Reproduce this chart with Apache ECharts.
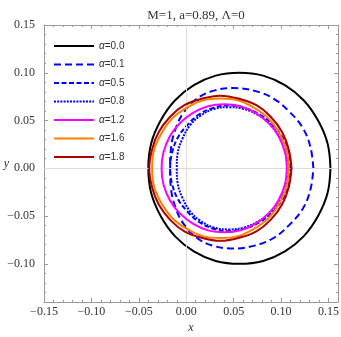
<!DOCTYPE html>
<html>
<head>
<meta charset="utf-8">
<script src="https://cdn.jsdelivr.net/npm/echarts@6/dist/echarts.min.js"></script>
<style>
  html, body { margin: 0; padding: 0; background: #fff; }
  #chart { width: 341px; height: 337px; }
</style>
</head>
<body>
<div id="chart"></div>
<script>
// shadow outlines, one x/y pair of lists per alpha
const alpha00X = [0.152, 0.149, 0.139, 0.124, 0.104, 0.081, 0.056, 0.031, 0.008, -0.012, -0.027, -0.037, -0.040, -0.037, -0.027, -0.012, 0.008, 0.031, 0.056, 0.081, 0.104, 0.124, 0.139, 0.149, 0.152]
const alpha00Y = [0, 0.026, 0.050, 0.071, 0.087, 0.097, 0.100, 0.097, 0.087, 0.071, 0.050, 0.026, 0, -0.026, -0.050, -0.071, -0.087, -0.097, -0.100, -0.097, -0.087, -0.071, -0.050, -0.026, 0]

const alpha01X = [0.134, 0.131, 0.123, 0.109, 0.092, 0.072, 0.050, 0.028, 0.010, -0.003, -0.011, -0.016, -0.017, -0.016, -0.011, -0.003, 0.010, 0.028, 0.050, 0.072, 0.092, 0.109, 0.123, 0.131, 0.134]
const alpha01Y = [0, 0.022, 0.042, 0.059, 0.073, 0.081, 0.084, 0.081, 0.072, 0.058, 0.042, 0.022, 0, -0.022, -0.042, -0.058, -0.072, -0.081, -0.084, -0.081, -0.073, -0.059, -0.042, -0.022, 0]

const alpha05X = [0.110, 0.108, 0.101, 0.091, 0.078, 0.062, 0.045, 0.028, 0.013, 0.001, -0.009, -0.015, -0.017, -0.015, -0.009, 0.001, 0.013, 0.028, 0.045, 0.062, 0.078, 0.091, 0.101, 0.108, 0.110]
const alpha05Y = [0, 0.017, 0.033, 0.046, 0.056, 0.063, 0.066, 0.063, 0.056, 0.045, 0.032, 0.016, 0, -0.016, -0.032, -0.045, -0.056, -0.063, -0.066, -0.063, -0.056, -0.046, -0.033, -0.017, 0]

const alpha08X = [0.108, 0.106, 0.100, 0.090, 0.077, 0.061, 0.045, 0.029, 0.015, 0.004, -0.004, -0.009, -0.010, -0.009, -0.004, 0.004, 0.015, 0.029, 0.045, 0.061, 0.077, 0.090, 0.100, 0.106, 0.108]
const alpha08Y = [0, 0.017, 0.032, 0.045, 0.055, 0.062, 0.064, 0.062, 0.055, 0.045, 0.031, 0.016, 0, -0.016, -0.031, -0.045, -0.055, -0.062, -0.064, -0.062, -0.055, -0.045, -0.032, -0.017, 0]

const alpha12X = [0.106, 0.104, 0.097, 0.087, 0.073, 0.057, 0.040, 0.023, 0.007, -0.007, -0.017, -0.024, -0.026, -0.024, -0.017, -0.007, 0.007, 0.023, 0.040, 0.057, 0.073, 0.087, 0.097, 0.104, 0.106]
const alpha12Y = [0, 0.017, 0.034, 0.047, 0.058, 0.065, 0.067, 0.065, 0.058, 0.047, 0.034, 0.017, 0, -0.017, -0.034, -0.047, -0.058, -0.065, -0.067, -0.065, -0.058, -0.047, -0.034, -0.017, 0]

const alpha16X = [0.108, 0.106, 0.098, 0.087, 0.072, 0.055, 0.036, 0.017, 0.000, -0.015, -0.026, -0.034, -0.036, -0.034, -0.026, -0.015, 0.000, 0.017, 0.036, 0.055, 0.072, 0.087, 0.098, 0.106, 0.108]
const alpha16Y = [0, 0.019, 0.037, 0.052, 0.063, 0.071, 0.073, 0.071, 0.063, 0.052, 0.037, 0.019, 0, -0.019, -0.037, -0.052, -0.063, -0.071, -0.073, -0.071, -0.063, -0.052, -0.037, -0.019, 0]

const alpha18X = [0.111, 0.108, 0.101, 0.089, 0.074, 0.055, 0.036, 0.017, -0.002, -0.017, -0.029, -0.036, -0.039, -0.036, -0.029, -0.017, -0.002, 0.017, 0.036, 0.055, 0.074, 0.089, 0.101, 0.108, 0.111]
const alpha18Y = [0, 0.020, 0.038, 0.054, 0.066, 0.073, 0.076, 0.073, 0.066, 0.054, 0.038, 0.020, 0, -0.020, -0.038, -0.054, -0.066, -0.073, -0.076, -0.073, -0.066, -0.054, -0.038, -0.020, 0]

const seriesNames = ['α=0.0', 'α=0.1', 'α=0.5', 'α=0.8', 'α=1.2', 'α=1.6', 'α=1.8']
const xTickLabels = [-0.15, -0.10, -0.05, 0, 0.05, 0.10, 0.15]
const yTickLabels = [-0.10, -0.05, 0, 0.05, 0.10, 0.15]

const frameColor = '#9a9a9a'
const serif = 'Liberation Serif'

function zip(xs, ys) {
  return xs.map((x, i) => [x, ys[i]])
}

function fmt(v) {
  return (v < 0 ? '\u2212' : '') + Math.abs(v).toFixed(2)
}

// one axis with long ticks + labels, one with the short 0.01 ticks
function frameAxes(pos, min, max, labels, showLabels, name) {
  const major = {
    type: 'value', position: pos, min: min, max: max, interval: 0.01,
    axisLine: { show: true, onZero: false, lineStyle: { color: frameColor, width: 1 } },
    axisTick: { show: true, inside: true, length: 4, customValues: labels, lineStyle: { color: frameColor } },
    axisLabel: {
      show: showLabels, customValues: labels, formatter: fmt,
      fontFamily: serif, fontSize: 12, color: '#333',
      margin: (pos === 'left') ? 9 : 4
    },
    splitLine: { show: false }
  }
  if (name) {
    major.name = name
    major.nameLocation = 'middle'
    major.nameMoveOverlap = false
    major.nameTextStyle = { fontFamily: serif, fontStyle: 'italic', fontSize: 12, color: '#333' }
    if (pos === 'left') {
      major.nameRotate = 0
      major.nameGap = 35
    } else {
      major.nameGap = 20
    }
  }
  const minor = {
    type: 'value', position: pos, min: min, max: max, interval: 0.01,
    axisLine: { show: false, onZero: false },
    axisTick: { show: true, inside: true, length: 2, lineStyle: { color: frameColor } },
    axisLabel: { show: false },
    splitLine: { show: false }
  }
  return [major, minor]
}

const styles = [
  { color: '#000000', type: 'solid' },
  { color: '#0000ff', type: [7, 4] },
  { color: '#0000ff', type: [5, 2.5] },
  { color: '#0000ff', type: [2, 1.2] },
  { color: '#ff00ff', type: 'solid' },
  { color: '#ff8000', type: 'solid' },
  { color: '#aa0000', type: 'solid' }
]
const curves = [
  zip(alpha00X, alpha00Y), zip(alpha01X, alpha01Y), zip(alpha05X, alpha05Y), zip(alpha08X, alpha08Y),
  zip(alpha12X, alpha12Y), zip(alpha16X, alpha16Y), zip(alpha18X, alpha18Y)
]

const series = [{
  // light axes through the origin
  type: 'line', data: [], z: 1, silent: true,
  markLine: {
    silent: true, symbol: 'none', label: { show: false },
    lineStyle: { color: '#dddddd', width: 1, type: 'solid' },
    data: [{ xAxis: 0 }, { yAxis: 0 }]
  }
}]
curves.forEach((pts, i) => {
  series.push({
    name: seriesNames[i],
    type: 'line',
    data: pts,
    z: 2 + i,
    smooth: 0.4,
    symbol: 'none',
    lineStyle: { color: styles[i].color, width: 2, type: styles[i].type },
    itemStyle: { color: styles[i].color }
  })
})

const chart = echarts.init(document.getElementById('chart'))
chart.setOption({
  animation: false,
  backgroundColor: '#ffffff',
  title: {
    text: 'M=1, a=0.89, \u039B=0',
    left: 191, top: 4, textAlign: 'center',
    textStyle: { fontFamily: serif, fontSize: 13, fontWeight: 'normal', color: '#333' }
  },
  grid: { left: 44, right: 3, top: 25, bottom: 35, outerBoundsMode: 'none', containLabel: false },
  legend: {
    orient: 'vertical', left: 53, top: 41, padding: 0,
    data: seriesNames,
    itemWidth: 40, itemHeight: 12, itemGap: 8.5,
    itemStyle: { opacity: 0 },
    formatter: n => '{a|\u03B1}' + n.slice(1),
    textStyle: {
      fontFamily: 'Liberation Sans', fontSize: 10, color: '#333',
      rich: { a: { fontFamily: 'Liberation Sans', fontStyle: 'italic', fontSize: 10, color: '#333', height: 12 } }
    }
  },
  xAxis: [
    ...frameAxes('bottom', -0.15, 0.16, xTickLabels, true, 'x'),
    ...frameAxes('top', -0.15, 0.16, xTickLabels, false)
  ],
  yAxis: [
    ...frameAxes('left', -0.14, 0.15, yTickLabels, true, 'y'),
    ...frameAxes('right', -0.14, 0.15, yTickLabels, false)
  ],
  series: series
})
</script>
</body>
</html>
